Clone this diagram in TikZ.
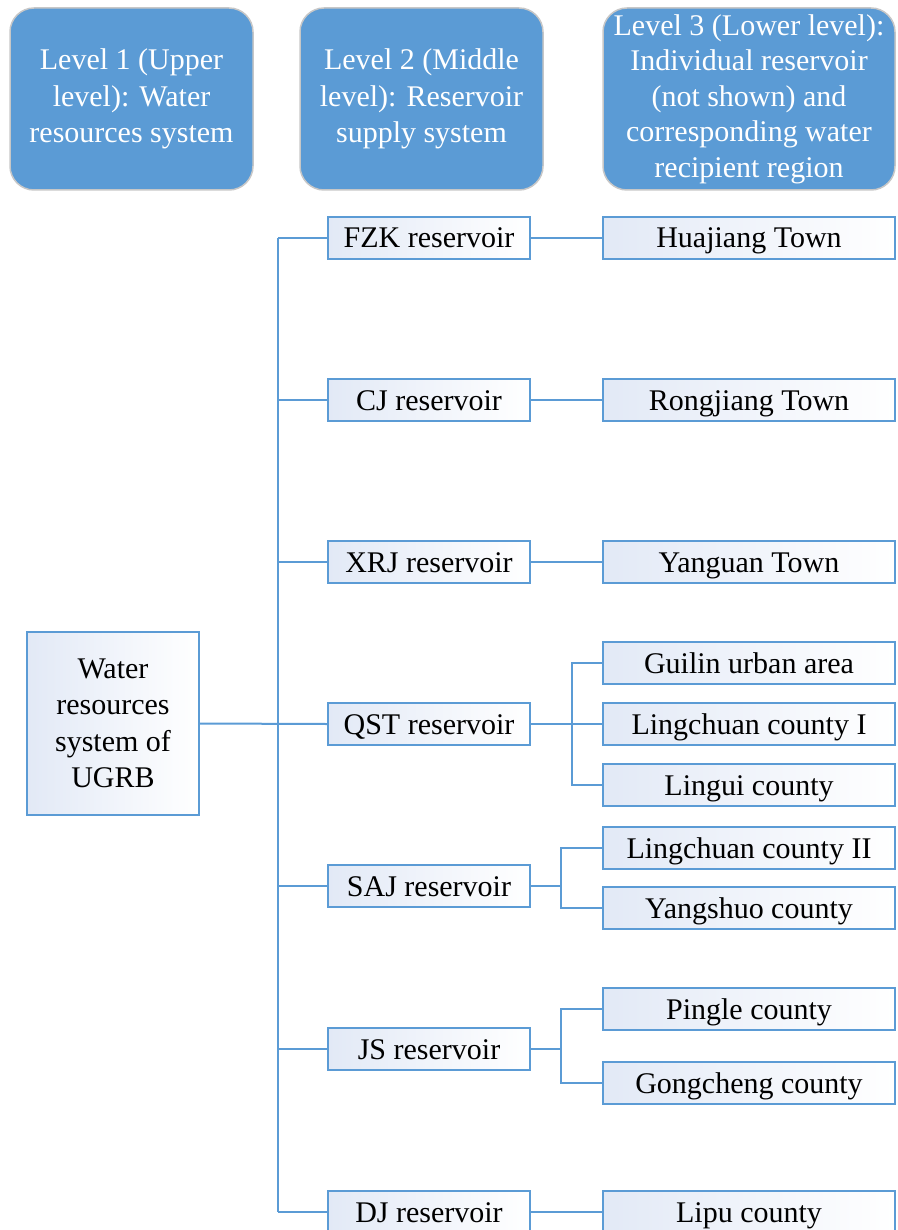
\documentclass[tikz,border=0pt]{standalone}
\usepackage{fontspec}
\setmainfont{Liberation Serif}
\usetikzlibrary{positioning}
\definecolor{lineblue}{RGB}{91,155,213}
\definecolor{headblue}{RGB}{91,155,213}
\definecolor{boxtint}{RGB}{226,233,246}

\begin{document}
\begin{tikzpicture}[
        x=1pt, y=-1pt,
        font=\fontsize{30}{36.5}\selectfont,
        % Rounded header boxes for the three levels
        level/.style={rectangle, rounded corners=24pt, fill=headblue, draw=black!22,
            line width=1.5pt, text=white, align=center,
            minimum width=243pt, minimum height=182pt, inner sep=0pt},
        % Plain tinted boxes
        plainbox/.style={rectangle, draw=lineblue, line width=1.8pt,
            left color=boxtint, right color=white, align=center, inner sep=0pt},
        resbox/.style={plainbox, minimum width=202pt, minimum height=42pt,
            text height=23pt, text depth=3pt},
        regbox/.style={resbox, minimum width=292pt},
        link/.style={draw=lineblue, line width=2pt}
    ]

    \useasboundingbox (0,0) rectangle (897,1230);

    % --- Level headers ---
    \node[level] (lev1) at (131.5,99) {Level 1 (Upper\\level): Water\\resources system};
    \node[level] (lev2) at (421.5,99) {Level 2 (Middle\\level): Reservoir\\supply system};
    \node[level, minimum width=292pt, font=\fontsize{30}{35.5}\selectfont] (lev3) at (749,99)
        {Level 3 (Lower level):\\Individual reservoir\\(not shown) and\\corresponding water\\recipient region};

    % --- Upper level ---
    \node[plainbox, minimum width=172pt, minimum height=183pt] (water) at (113,723.5)
        {Water\\resources\\system of\\UGRB};

    % --- Reservoirs ---
    \node[resbox] (fzk) at (429,238)  {FZK reservoir};
    \node[resbox] (cj)  at (429,400)  {CJ reservoir};
    \node[resbox] (xrj) at (429,562)  {XRJ reservoir};
    \node[resbox] (qst) at (429,724)  {QST reservoir};
    \node[resbox] (saj) at (429,886)  {SAJ reservoir};
    \node[resbox] (js)  at (429,1049) {JS reservoir};
    \node[resbox] (dj)  at (429,1212) {DJ reservoir};

    % --- Recipient regions ---
    \node[regbox] (huajiang)  at (749,238)  {Huajiang Town};
    \node[regbox] (rongjiang) at (749,400)  {Rongjiang Town};
    \node[regbox] (yanguan)   at (749,562)  {Yanguan Town};
    \node[regbox] (guilin)    at (749,663)  {Guilin urban area};
    \node[regbox] (lingone)   at (749,724)  {Lingchuan county I};
    \node[regbox] (lingui)    at (749,785)  {Lingui county};
    \node[regbox] (lingtwo)   at (749,848)  {Lingchuan county II};
    \node[regbox] (yangshuo)  at (749,908)  {Yangshuo county};
    \node[regbox] (pingle)    at (749,1009) {Pingle county};
    \node[regbox] (gongcheng) at (749,1083) {Gongcheng county};
    \node[regbox] (lipu)      at (749,1212) {Lipu county};

    % --- Connectors ---
    \coordinate (trunk) at (278,0);
    \coordinate (qsplit) at (572,0);
    \coordinate (ssplit) at (561,0);

    \draw[link] (water.east) -- (qst.west);
    \draw[link] (fzk.west -| trunk) -- (dj.west -| trunk);
    \foreach \r in {fzk,cj,xrj,saj,js,dj}
        \draw[link] (\r.west) -- (\r.west -| trunk);

    \draw[link] (fzk.east) -- (huajiang.west);
    \draw[link] (cj.east) -- (rongjiang.west);
    \draw[link] (xrj.east) -- (yanguan.west);
    \draw[link] (dj.east) -- (lipu.west);

    \draw[link] (qst.east) -- (lingone.west);
    \draw[link] (guilin.west) -- (guilin.west -| qsplit) -- (lingui.west -| qsplit) -- (lingui.west);

    \draw[link] (saj.east) -- (saj.east -| ssplit);
    \draw[link] (lingtwo.west) -- (lingtwo.west -| ssplit) -- (yangshuo.west -| ssplit) -- (yangshuo.west);

    \draw[link] (js.east) -- (js.east -| ssplit);
    \draw[link] (pingle.west) -- (pingle.west -| ssplit) -- (gongcheng.west -| ssplit) -- (gongcheng.west);

\end{tikzpicture}
\end{document}
